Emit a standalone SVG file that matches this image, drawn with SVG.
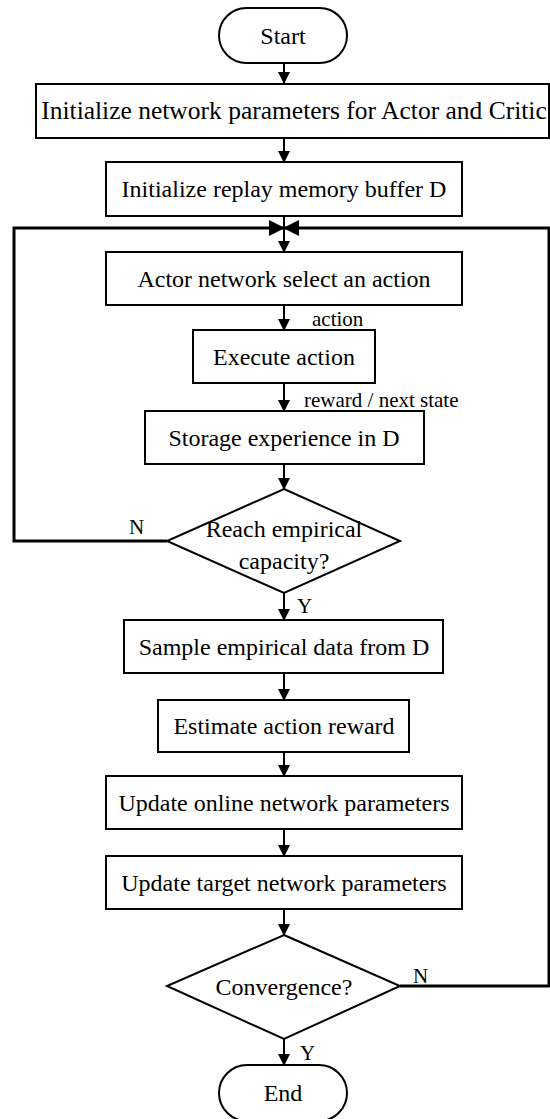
<svg xmlns="http://www.w3.org/2000/svg" width="550" height="1119" viewBox="0 0 550 1119">
  <defs>
    <marker id="arrow" markerWidth="12" markerHeight="12" refX="11" refY="6" orient="auto" markerUnits="userSpaceOnUse">
      <path d="M0,0 L12,6 L0,12 Z" fill="#000"/>
    </marker>
    <marker id="arrowWide" markerWidth="16" markerHeight="16" refX="15" refY="8" orient="auto" markerUnits="userSpaceOnUse">
      <path d="M0,0 L16,8 L0,16 Z" fill="#000"/>
    </marker>
    <style>
      .box { fill: #fff; stroke: #000; stroke-width: 2; }
      .txt { font-family: "Liberation Serif", "Times New Roman", serif; font-size: 24px; fill: #000; text-anchor: middle; }
      .lbl { font-family: "Liberation Serif", "Times New Roman", serif; font-size: 21px; fill: #000; }
      .flow { fill: none; stroke: #000; stroke-width: 2; }
      .loop { fill: none; stroke: #000; stroke-width: 3; }
    </style>
  </defs>

  <!-- connectors -->
  <g id="connectors">
    <line class="flow" x1="284" y1="63" x2="284" y2="83" marker-end="url(#arrow)"/>
    <line class="flow" x1="284" y1="138" x2="284" y2="162" marker-end="url(#arrow)"/>
    <line class="flow" x1="284" y1="216" x2="284" y2="252" marker-end="url(#arrow)"/>
    <line class="flow" x1="284" y1="305" x2="284" y2="330" marker-end="url(#arrow)"/>
    <line class="flow" x1="284" y1="383" x2="284" y2="411" marker-end="url(#arrow)"/>
    <line class="flow" x1="284" y1="464" x2="284" y2="489" marker-end="url(#arrow)"/>
    <line class="flow" x1="284" y1="593" x2="284" y2="620" marker-end="url(#arrow)"/>
    <line class="flow" x1="284" y1="673" x2="284" y2="700" marker-end="url(#arrow)"/>
    <line class="flow" x1="284" y1="752" x2="284" y2="776" marker-end="url(#arrow)"/>
    <line class="flow" x1="284" y1="829" x2="284" y2="856" marker-end="url(#arrow)"/>
    <line class="flow" x1="284" y1="909" x2="284" y2="935" marker-end="url(#arrow)"/>
    <line class="flow" x1="284" y1="1039" x2="284" y2="1065" marker-end="url(#arrow)"/>
    <!-- N loop from capacity check back to action selection -->
    <polyline class="loop" points="167,541 14,541 14,228 284,228" marker-end="url(#arrowWide)"/>
    <!-- N loop from convergence check back to action selection -->
    <polyline class="loop" points="400,986 549,986 549,228 284,228" marker-end="url(#arrowWide)"/>
    <text class="lbl" x="312" y="326">action</text>
    <text class="lbl" x="304" y="407">reward / next state</text>
    <text class="lbl" x="129" y="534">N</text>
    <text class="lbl" x="297" y="613">Y</text>
    <text class="lbl" x="413" y="983">N</text>
    <text class="lbl" x="300" y="1060">Y</text>
  </g>

  <g id="start">
    <rect class="box" x="219" y="8" width="128" height="55" rx="27.5"/>
    <text class="txt" x="283" y="44">Start</text>
  </g>
  <g id="init-networks">
    <rect class="box" x="36" y="84" width="513" height="54"/>
    <text class="txt" x="294" y="119" style="font-size:25.5px">Initialize network parameters for Actor and Critic</text>
  </g>
  <g id="init-buffer">
    <rect class="box" x="106" y="162" width="356" height="54"/>
    <text class="txt" x="284" y="197">Initialize replay memory buffer D</text>
  </g>
  <g id="select-action">
    <rect class="box" x="106" y="252" width="356" height="53"/>
    <text class="txt" x="284" y="287">Actor network select an action</text>
  </g>
  <g id="execute-action">
    <rect class="box" x="193" y="330" width="182" height="53"/>
    <text class="txt" x="284" y="365">Execute action</text>
  </g>
  <g id="store-experience">
    <rect class="box" x="145" y="411" width="279" height="53"/>
    <text class="txt" x="284" y="446">Storage experience in D</text>
  </g>
  <g id="capacity-check">
    <polygon class="box" points="284,489 400,541 284,593 167,541"/>
    <text class="txt" x="284" y="537">Reach empirical</text>
    <text class="txt" x="284" y="569">capacity?</text>
  </g>
  <g id="sample-data">
    <rect class="box" x="124" y="620" width="319" height="53"/>
    <text class="txt" x="284" y="655">Sample empirical data from D</text>
  </g>
  <g id="estimate-reward">
    <rect class="box" x="158" y="700" width="251" height="52"/>
    <text class="txt" x="284" y="734">Estimate action reward</text>
  </g>
  <g id="update-online">
    <rect class="box" x="106" y="776" width="356" height="53"/>
    <text class="txt" x="284" y="811">Update online network parameters</text>
  </g>
  <g id="update-target">
    <rect class="box" x="106" y="856" width="356" height="53"/>
    <text class="txt" x="284" y="891">Update target network parameters</text>
  </g>
  <g id="convergence-check">
    <polygon class="box" points="284,935 400,986 284,1039 167,986"/>
    <text class="txt" x="284" y="995">Convergence?</text>
  </g>
  <g id="end">
    <rect class="box" x="219" y="1065" width="128" height="56" rx="28"/>
    <text class="txt" x="283" y="1101">End</text>
  </g>
</svg>
